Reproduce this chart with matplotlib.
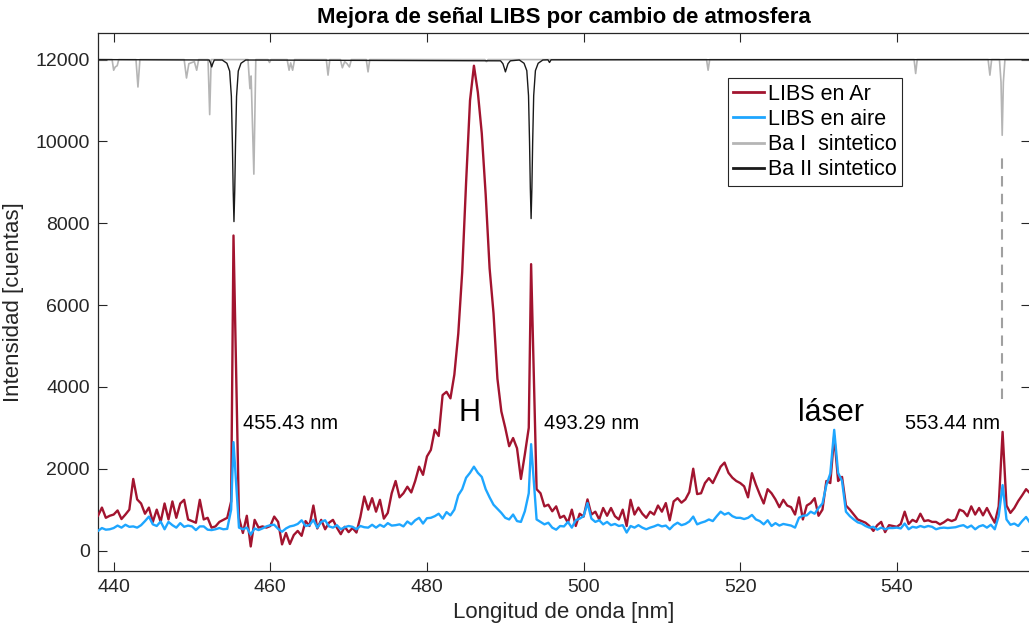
import numpy as np
import matplotlib
matplotlib.use("Agg")
import matplotlib.pyplot as plt

plt.rcParams["font.family"] = ["Liberation Sans", "DejaVu Sans"]

# ---------------------------------------------------------------------------
# Measured spectra (0.5 nm sampling, line centres placed on their own sample)
# ---------------------------------------------------------------------------
wavelength = np.round(np.arange(438.0, 557.0 + 0.25, 0.5), 2)
line_centres = [455.3, 493.3]
for c in line_centres:
    wavelength[np.argmin(np.abs(wavelength - c))] = c

libs_ar = [
    850, 1050, 800, 850, 880, 980, 770, 880, 1000, 1750,        # 438.0
    1250, 1150, 900, 1050, 700, 1000, 700, 1150, 760, 1200,     # 443.0
    800, 1150, 1240, 760, 720, 680, 1240, 760, 800, 560,        # 448.0
    590, 700, 750, 800, 1200, 7700, 800, 430, 850, 100,         # 453.0
    750, 560, 590, 560, 600, 830, 700, 150, 430, 160,           # 458.0
    380, 480, 360, 720, 600, 1100, 540, 750, 520, 680,          # 463.0
    750, 560, 400, 580, 450, 550, 440, 820, 1320, 1000,         # 468.0
    1280, 950, 1240, 780, 920, 1400, 1700, 1300, 1400, 1560,    # 473.0
    1420, 1700, 2050, 1850, 2300, 2460, 2950, 2800, 3800, 3880, # 478.0
    3720, 4300, 5300, 6800, 9000, 11000, 11850, 11200, 10200, 8700,  # 483.0
    6900, 5800, 4200, 3400, 3000, 2550, 2750, 2500, 1750, 2350, # 488.0
    3000, 7000, 1500, 1400, 1080, 1120, 960, 1080, 800, 850,    # 493.0
    680, 1000, 600, 900, 830, 1250, 880, 950, 760, 1040,        # 498.0
    850, 1040, 840, 760, 1000, 600, 1240, 880, 1050, 900,       # 503.0
    800, 950, 880, 1100, 950, 1160, 740, 1200, 1280, 1170,      # 508.0
    1250, 1430, 2000, 1380, 1400, 1650, 1770, 1650, 1850, 2050, # 513.0
    2150, 1900, 1780, 1700, 1650, 1570, 1300, 1890, 1610, 1370, # 518.0
    1150, 1500, 1400, 1250, 1060, 1240, 1100, 1060, 880, 1300,  # 523.0
    760, 1100, 1160, 1280, 850, 1000, 1700, 1650, 2800, 1700,   # 528.0
    1800, 1100, 1000, 880, 760, 720, 680, 600, 480, 620,        # 533.0
    700, 450, 620, 600, 580, 650, 950, 650, 750, 700,           # 538.0
    900, 720, 740, 700, 700, 640, 690, 760, 720, 760,           # 543.0
    1000, 960, 840, 1080, 880, 1040, 860, 1040, 850, 680,       # 548.0
    1080, 2900, 1100, 920, 1040, 1210, 1350, 1500, 1400,        # 553.0
]

libs_aire = [
    480, 550, 510, 520, 550, 610, 560, 630, 580, 590,           # 438.0
    560, 620, 720, 830, 640, 600, 710, 520, 700, 620,           # 443.0
    560, 670, 580, 610, 590, 500, 590, 590, 510, 500,           # 448.0
    520, 550, 520, 530, 1000, 2650, 560, 520, 560, 390,         # 453.0
    540, 500, 540, 590, 620, 630, 530, 460, 540, 590,           # 458.0
    610, 650, 740, 600, 620, 750, 560, 700, 740, 590,           # 463.0
    560, 620, 520, 570, 600, 580, 520, 600, 570, 560,           # 468.0
    630, 560, 630, 580, 670, 610, 620, 640, 590, 710,           # 473.0
    640, 740, 800, 660, 790, 800, 840, 900, 780, 940,           # 478.0
    860, 1000, 1350, 1500, 1780, 1900, 2050, 1900, 1800, 1500,  # 483.0
    1300, 1120, 1020, 920, 800, 760, 880, 720, 700, 960,        # 488.0
    1400, 2600, 760, 700, 640, 680, 560, 510, 600, 590,         # 493.0
    700, 560, 740, 780, 840, 1160, 780, 700, 740, 640,          # 498.0
    700, 620, 650, 600, 620, 440, 600, 560, 620, 560,           # 503.0
    520, 560, 590, 630, 590, 610, 520, 620, 680, 620,           # 508.0
    650, 710, 830, 640, 680, 710, 760, 720, 840, 950,           # 513.0
    880, 920, 840, 800, 800, 770, 800, 870, 760, 720,           # 518.0
    640, 740, 600, 670, 610, 650, 630, 610, 560, 800,           # 523.0
    850, 860, 950, 900, 1040, 1150, 1600, 1880, 2950, 1900,     # 528.0
    1700, 950, 840, 760, 690, 660, 600, 560, 580, 510,          # 533.0
    560, 520, 550, 550, 560, 540, 660, 520, 580, 560,           # 538.0
    600, 570, 600, 580, 520, 550, 560, 550, 560, 570,           # 543.0
    600, 620, 560, 610, 520, 590, 620, 560, 630, 520,           # 548.0
    840, 1600, 760, 630, 660, 600, 720, 820, 680,               # 553.0
]

# ---------------------------------------------------------------------------
# Synthetic Ba I / Ba II spectra (offset to 12000 counts)
# ---------------------------------------------------------------------------
ba1_wl = [438.0, 439.8, 440.0, 440.2, 440.45, 440.65,
          442.85, 443.1, 443.35,
          449.0, 449.3, 449.6, 450.3, 450.6, 450.85,
          452.05, 452.26, 452.45,
          457.15, 457.4, 457.55, 457.9, 458.15,
          459.7, 459.9, 460.1,
          462.15, 462.4, 462.6, 462.85, 463.1,
          467.15, 467.37, 467.6,
          468.95, 469.2, 469.5, 469.8, 470.1, 470.35,
          472.25, 472.48, 472.7,
          487.4, 487.6, 487.8,
          515.7, 515.9, 516.1,
          542.2, 542.4, 542.6,
          551.65, 551.88, 552.1,
          553.1, 553.3, 553.45, 553.6, 553.8,
          557.0]
ba1_int = [12000, 12000, 11740, 11820, 11850, 12000,
           12000, 11330, 12000,
           12000, 11550, 11900, 11950, 11740, 12000,
           12000, 10655, 12000,
           12000, 11290, 11600, 9200, 12000,
           12000, 11930, 12000,
           12000, 11740, 11920, 11740, 12000,
           12000, 11620, 12000,
           12000, 11800, 11950, 11900, 11820, 12000,
           12000, 11700, 12000,
           12000, 11950, 12000,
           12000, 11740, 12000,
           12000, 11660, 12000,
           12000, 11620, 12000,
           12000, 11450, 10150, 11450, 12000,
           12000]

ba2_wl = [438.0, 452.2, 452.4, 452.52, 452.65, 452.85,
          453.86, 454.46, 454.81, 455.03, 455.16, 455.26, 455.36,
          455.46, 455.56, 455.69, 455.91, 456.26, 456.86,
          489.4, 489.7, 489.9, 490.02, 490.15, 490.35, 490.65,
          491.8, 492.4, 492.75, 492.97, 493.1, 493.2, 493.3,
          493.4, 493.5, 493.63, 493.85, 494.2, 494.8,
          495.45, 495.65, 495.85,
          557.0]
ba2_int = [12000, 11990, 11900, 11820, 11900, 11990,
           11990, 11910, 11720, 11100, 9950, 8800, 8040,
           8800, 9950, 11100, 11720, 11910, 11990,
           11970, 11900, 11780, 11700, 11780, 11900, 11970,
           11990, 11910, 11730, 11120, 9990, 8860, 8114,
           8860, 9990, 11120, 11730, 11910, 11990,
           11995, 11930, 11995,
           12000]

# Annotations
line_labels = ["455.43 nm", "493.29 nm", "553.44 nm"]
feature_labels = ["H", "láser"]

# ---------------------------------------------------------------------------
# Figure
# ---------------------------------------------------------------------------
W, H = 1029, 631
fig = plt.figure(figsize=(W / 100, H / 100), dpi=100)
ax = fig.add_axes([98 / W, 60 / H, 932 / W, 538 / H])

c_ar = "#A2142F"
c_aire = "#1EA6FF"
c_ba1 = "#B5B5B5"
c_ba2 = "#1A1A1A"
axis_col = "#262626"

ax.plot(wavelength, libs_ar, color=c_ar, lw=1.7, label="LIBS en Ar", zorder=3)
ax.plot(wavelength, libs_aire, color=c_aire, lw=1.7, label="LIBS en aire", zorder=4)
ax.plot(ba1_wl, ba1_int, color=c_ba1, lw=1.2, label="Ba I  sintetico", zorder=2)
ax.plot(ba2_wl, ba2_int, color=c_ba2, lw=1.0, label="Ba II sintetico", zorder=2.5)

# guide from the Ba I 553.44 nm line down to its label
ax.plot([553.44, 553.44], [3700, 9650], color="#A0A0A0", lw=1.5,
        ls=(0, (5, 3.5)), zorder=1)

ax.text(456.5, 2970, line_labels[0], fontsize=14.5, ha="left", va="baseline")
ax.text(495.0, 2970, line_labels[1], fontsize=14.5, ha="left", va="baseline")
ax.text(553.15, 2970, line_labels[2], fontsize=14.5, ha="right", va="baseline")
ax.text(485.4, 3170, feature_labels[0], fontsize=22, ha="center", va="baseline")
ax.text(531.55, 3160, feature_labels[1], fontsize=22, ha="center", va="baseline")

ax.set_xlim(438, 557)
ax.set_ylim(-500, 12650)
ax.set_xticks(np.arange(440, 541, 20))
ax.set_yticks(np.arange(0, 12001, 2000))

ax.tick_params(direction="in", length=6.5, width=0.8, colors=axis_col,
               labelsize=14, top=True, right=True, pad=6)
for s in ax.spines.values():
    s.set_color(axis_col)
    s.set_linewidth(0.9)

ax.set_xlabel("Longitud de onda [nm]", fontsize=16, color=axis_col, labelpad=4)
ax.set_ylabel("Intensidad [cuentas]", fontsize=16, color=axis_col, labelpad=8)
ax.set_title("Mejora de señal LIBS por cambio de atmosfera", fontsize=16,
             fontweight="bold", pad=7)

leg = ax.legend(loc="upper left", bbox_to_anchor=(0.676, 0.916),
                borderaxespad=0, fontsize=15.5, handlelength=1.4,
                handletextpad=0.2, labelspacing=0.2, borderpad=0.25,
                fancybox=False, framealpha=1)
leg.get_frame().set_edgecolor(axis_col)
leg.get_frame().set_linewidth(0.8)
for line in leg.get_lines():
    line.set_linewidth(2.0)

fig.savefig("out.png", dpi=100)
